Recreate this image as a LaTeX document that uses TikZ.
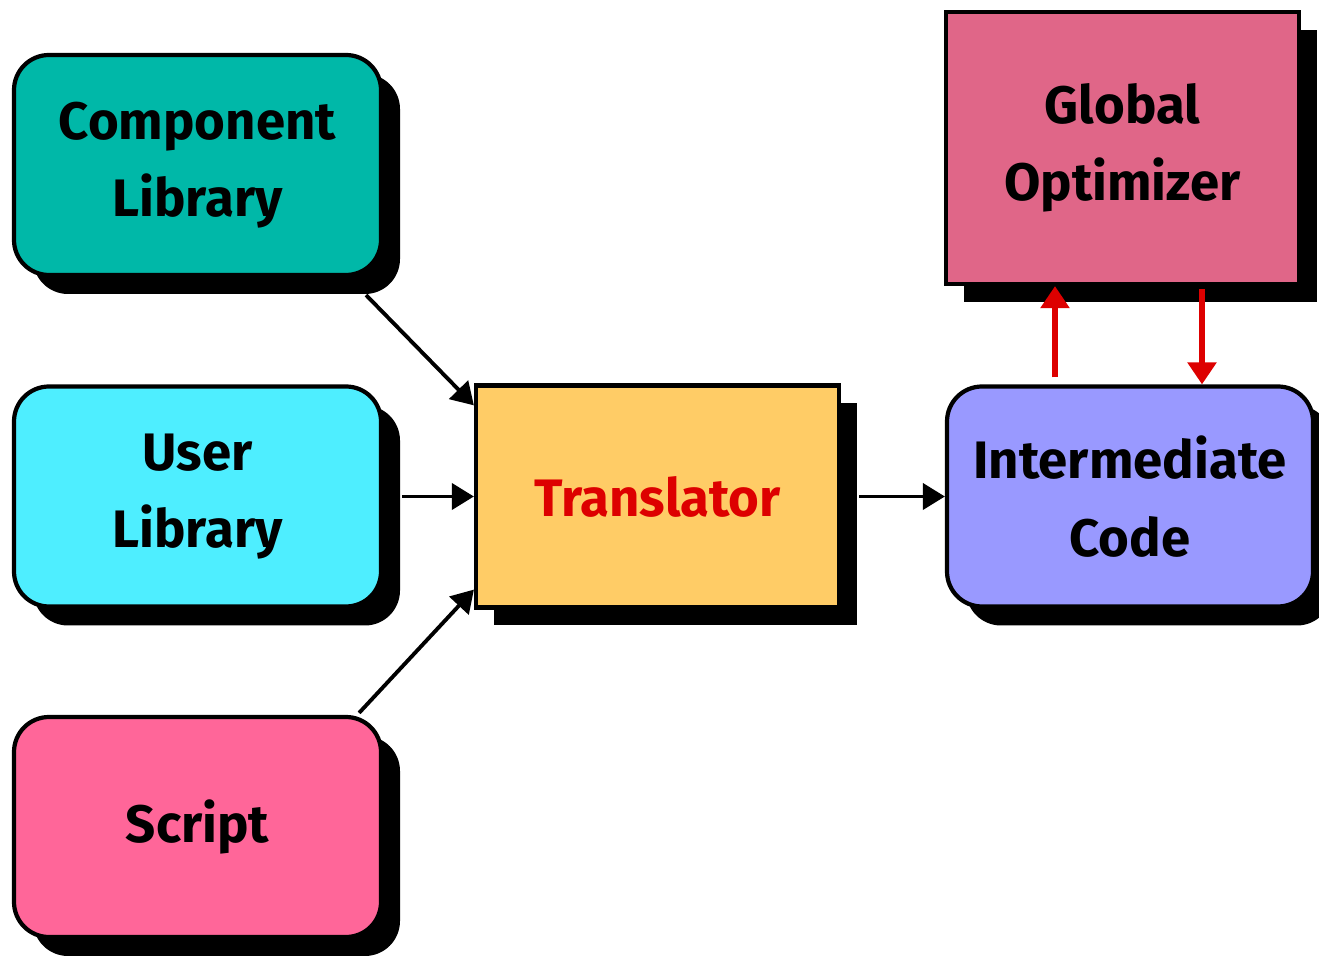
\documentclass[tikz,border=0pt]{standalone}
\usepackage{fontspec}
\setmainfont{Fira Sans}
\usetikzlibrary{shadows,arrows.meta}
\definecolor{clteal}{RGB}{0,184,168}
\definecolor{ulcyan}{RGB}{78,238,255}
\definecolor{scpink}{RGB}{255,102,153}
\definecolor{trgold}{RGB}{255,204,102}
\definecolor{gorose}{RGB}{224,102,136}
\definecolor{icblue}{RGB}{153,153,255}
\definecolor{arred}{RGB}{221,0,0}
\begin{document}
\begin{tikzpicture}[
   every node/.style={draw,line width=1.2pt,align=center,
     font=\fontsize{15}{22}\selectfont\bfseries},
   roundbox/.style={rounded corners=0.35cm,minimum width=3.67cm,minimum height=2.2cm,
     drop shadow={shadow xshift=0.19cm,shadow yshift=-0.19cm,fill=black,opacity=1}},
   sharpbox/.style={minimum width=3.63cm,minimum height=2.22cm,
     drop shadow={shadow xshift=0.18cm,shadow yshift=-0.18cm,fill=black,opacity=1}},
   arr/.style={-{Triangle[length=0.22cm,width=0.26cm]},line width=1.1pt},
   redarr/.style={-{Triangle[length=0.22cm,width=0.28cm]},line width=1.6pt,draw=arred}]

\useasboundingbox (0,0) rectangle (13.19,9.55);

\node[roundbox,fill=clteal] (cl) at (1.975,7.90) {Component\\Library};
\node[roundbox,fill=ulcyan] (ul) at (1.975,4.585) {User\\Library};
\node[roundbox,fill=scpink] (sc) at (1.975,1.28) {Script};
\node[sharpbox,fill=trgold,text=arred] (tr) at (6.575,4.585) {Translator};
\node[sharpbox,fill=gorose,minimum width=3.53cm,minimum height=2.72cm] (go) at (11.225,8.07) {Global\\Optimizer};
\node[roundbox,fill=icblue,minimum width=3.66cm] (ic) at (11.30,4.585) {Intermediate\\Code};

\draw[arr] ([shift={(-0.17,-0.18)}]cl.south east) -- ([yshift=-0.22cm]tr.north west);
\draw[arr] ([xshift=0.19cm]ul.east) -- (tr.west);
\draw[arr] ([xshift=-0.24cm,yshift=0.02cm]sc.north east) -- ([yshift=0.2cm]tr.south west);
\draw[arr] ([xshift=0.18cm]tr.east) -- (ic.west);

\draw[redarr] ([xshift=-0.75cm,yshift=0.07cm]ic.north) -- ([xshift=-0.675cm]go.south);
\draw[redarr] ([xshift=0.795cm,yshift=-0.03cm]go.south) -- ([xshift=0.72cm]ic.north);

\end{tikzpicture}
\end{document}
